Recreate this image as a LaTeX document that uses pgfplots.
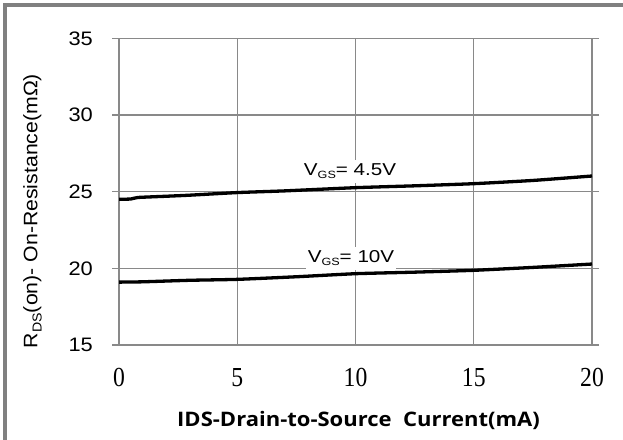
\documentclass[border=0pt]{standalone}
\usepackage{pgfplots}
\pgfplotsset{compat=1.18}
\usepackage{fontspec}
\setmainfont{Liberation Sans}
\newfontfamily\tnr[FakeStretch=0.86]{Liberation Serif}
\newfontfamily\ytfont[FakeStretch=1.12]{Liberation Sans}
\newfontfamily\lblfont[FakeStretch=1.2]{Liberation Sans}
\newfontfamily\ylfont[FakeStretch=1.09]{Liberation Sans}
\newfontfamily\titlefont[FakeStretch=1.1]{Open Sans}
\definecolor{gridgray}{RGB}{137,137,137}
\definecolor{bordergray}{RGB}{128,128,128}
\begin{document}
\begin{tikzpicture}
\path[use as bounding box] (0,0) rectangle (623bp,440bp);
\draw[line width=3.8bp, bordergray] (4.6bp,0) -- (4.6bp,435.3bp) -- (623bp,435.3bp);
\begin{axis}[
  at={(119bp,95bp)}, anchor=south west,
  scale only axis, width=473bp, height=306.7bp,
  xmin=0, xmax=20, ymin=15, ymax=35,
  xtick={0,5,10,15,20}, ytick={15,20,25,30,35},
  grid=major,
  major grid style={draw=gridgray, line width=1.4bp},
  axis line style={draw=gridgray, line width=1.4bp},
  tick align=outside,
  major tick length=7bp,
  ytick style={draw=gridgray, line width=1.4bp},
  xtick style={draw=none},
  /pgf/number format/assume math mode=true,
  xticklabel style={font=\tnr\fontsize{27.5bp}{30bp}\selectfont, anchor=base, inner sep=0pt, yshift=-34.3bp},
  yticklabel style={font=\ytfont\fontsize{19.5bp}{21bp}\selectfont, anchor=east, inner sep=0pt, xshift=-19bp},
]
\addplot[black, line width=3.3bp, smooth, tension=0.3] coordinates {
 (0,24.5) (0.5,24.52) (0.8,24.62) (2,24.7) (3,24.77) (5,24.94) (7,25.05) (10,25.26) (12.5,25.38) (15,25.52) (17.5,25.73) (20,26.02)};
\addplot[black, line width=3.3bp, smooth, tension=0.3] coordinates {
 (0,19.1) (1,19.12) (3,19.22) (5,19.28) (7.5,19.45) (10,19.65) (12.5,19.75) (15,19.87) (17.5,20.06) (20,20.28)};
\node[fill=white, inner xsep=2bp, inner ysep=4bp, anchor=base, font=\lblfont\fontsize{17.2bp}{20bp}\selectfont] at (axis cs:9.77,26.04) {V\raisebox{-3.3bp}{\fontsize{10.5bp}{12bp}\selectfont GS}= 4.5V};
\node[fill=white, inner xsep=2bp, inner ysep=4bp, anchor=base, font=\lblfont\fontsize{17.2bp}{20bp}\selectfont] at (axis cs:9.81,20.37) {V\raisebox{-3.3bp}{\fontsize{10.5bp}{12bp}\selectfont GS}= 10V};
\end{axis}
\node[rotate=90, anchor=base, font=\ylfont\fontsize{19.5bp}{22bp}\selectfont] at (37.3bp,229bp) {R\raisebox{-4.4bp}{\fontsize{13bp}{14bp}\selectfont DS}(on)- On-Resistance(mΩ)};
\node[anchor=base, font=\titlefont\bfseries\fontsize{20bp}{24bp}\selectfont] at (358.5bp,13.3bp) {IDS-Drain-to-Source\ \ Current(mA)};
\end{tikzpicture}
\end{document}
